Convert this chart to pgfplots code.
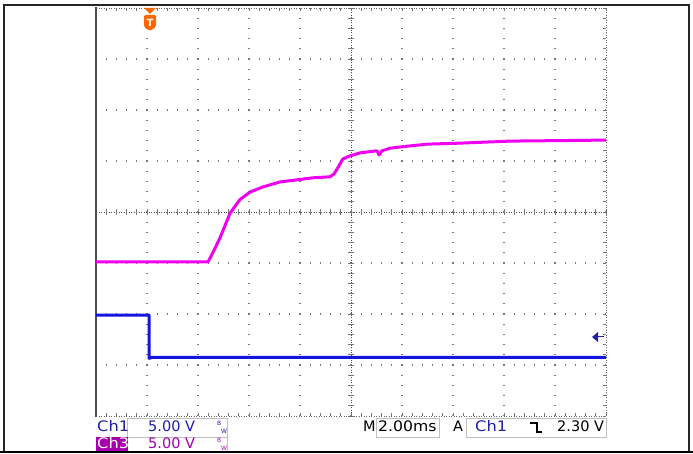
\documentclass[border=0pt]{standalone}
\usepackage{pgfplots}
\pgfplotsset{compat=1.18}
\usepackage{fontspec}
\setmainfont{DejaVu Sans}
\definecolor{chm}{RGB}{240,0,240}
\definecolor{chb}{RGB}{20,20,225}
\definecolor{txtb}{RGB}{30,30,170}
\definecolor{txtm}{RGB}{165,0,175}
\definecolor{gridc}{RGB}{120,120,120}
\definecolor{tor}{RGB}{255,102,0}
\begin{document}
\begin{tikzpicture}[x=1pt,y=1pt]
\path[use as bounding box] (0,0) rectangle (693,454);
\fill[white] (0,0) rectangle (693,454);
% grid (dotted major divisions)
\foreach \i in {1,...,9}{
  \draw[gridc, line width=1.3pt, dash pattern=on 1.3pt off 8.9pt, dash phase=0.65pt] ({96+51*\i},38) -- ({96+51*\i},446);
}
\foreach \j in {1,...,7}{
  \draw[gridc, line width=1.3pt, dash pattern=on 1.3pt off 8.9pt, dash phase=0.65pt] (96,{38+51*\j}) -- (606,{38+51*\j});
}
% centre crosshair
\draw[black!70, line width=0.9pt, dash pattern=on 1pt off 1.5pt] (351,38) -- (351,446);
\draw[black!70, line width=0.9pt, dash pattern=on 1pt off 1.5pt] (96,242) -- (606,242);
\foreach \k in {0,...,40}{
  \draw[gridc, line width=0.9pt] (348,{38+10.2*\k}) -- (354,{38+10.2*\k});
}
\foreach \k in {0,...,50}{
  \draw[gridc, line width=0.9pt] ({96+10.2*\k},239) -- ({96+10.2*\k},245);
  \draw[gridc, line width=0.9pt] ({96+10.2*\k},38) -- ({96+10.2*\k},41);
  \draw[gridc, line width=0.9pt] ({96+10.2*\k},446) -- ({96+10.2*\k},443);
}
\foreach \k in {0,...,40}{
  \draw[gridc, line width=0.9pt] (606,{38+10.2*\k}) -- (603,{38+10.2*\k});
}
% borders
\draw[black!60, line width=0.9pt, dash pattern=on 1pt off 1.5pt] (96,38) -- (606,38) -- (606,446);
\draw[black!60, line width=0.9pt, dash pattern=on 1pt off 1.5pt] (96,446) -- (606,446);
\draw[black!70, line width=1.6pt] (96,37) -- (96,447);
% traces
\begin{axis}[at={(96pt,38pt)}, anchor=south west, scale only axis,
  width=510pt, height=408pt, xmin=0, xmax=10, ymin=0, ymax=8,
  axis line style={draw=none}, ticks=none, clip=true]
\addplot[chm, line width=3pt, line join=round] coordinates {
(0,3.02) (2.196,3.02) (2.29,3.20) (2.43,3.49) (2.63,3.98) (2.82,4.24)
(3.02,4.39) (3.27,4.49) (3.61,4.59) (3.94,4.63) (4.25,4.67) (4.59,4.69)
(4.67,4.75) (4.75,4.88) (4.84,5.04) (4.98,5.10) (5.18,5.16) (5.51,5.20)
(5.55,5.12) (5.61,5.20) (5.76,5.25) (6.10,5.29) (6.49,5.33) (7.14,5.35)
(8.12,5.39) (9.10,5.40) (10,5.41)};
\addplot[chb, line width=3pt, line join=round] coordinates {
(0,1.98) (1.04,1.98) (1.04,1.13) (1.10,1.15) (10,1.15)};
\end{axis}
% trigger level arrow
\fill[txtb] (592,117) -- (598,122) -- (598,112) -- cycle;
\draw[txtb, line width=1pt] (597,117) -- (604,117);
% trigger position marker
\fill[tor] (144,446) -- (156,446) -- (150,440) -- cycle;
\fill[tor, rounded corners=1.5pt] (144,439) -- (156,439) -- (156,427) -- (150,423) -- (144,427) -- cycle;
\node[white, font=\fontsize{10}{10}\selectfont\bfseries, inner sep=0pt] at (150,431.5) {T};
% outer frame
\draw[black!85, line width=2pt] (3.5,2) -- (3.5,449) -- (688.5,449) -- (688.5,2);
% readout boxes
\draw[black!25, line width=0.8pt] (127,17) rectangle (227,36);
\draw[black!25, line width=0.8pt] (127,2) rectangle (227,17);
\draw[black!25, line width=0.8pt] (376,17) rectangle (439,36);
\draw[black!25, line width=0.8pt] (466,17) -- (466,36) -- (606,36) -- (606,17) -- cycle;
\fill[txtm] (96,2) rectangle (128,17);
\begin{scope}[every node/.style={inner sep=0pt, anchor=base west, font=\fontsize{14.5}{16}\selectfont}]
\node[txtb] at (97,22) {\scalebox{1.12}[1]{Ch1}};
\node[txtb] at (148,22) {5.00 V};
\node[white] at (97,5) {\scalebox{1.12}[1]{Ch3}};
\node[txtm] at (148,5) {5.00 V};
\node[black] at (363,22) {M};
\node[black] at (378,22) {\scalebox{1.08}[1]{2.00ms}};
\node[black] at (453,22) {A};
\node[txtb] at (475,22) {\scalebox{1.12}[1]{Ch1}};
\node[black] at (557,22) {2.30 V};
\end{scope}
% falling edge symbol
\draw[black, line width=1.4pt] (530,31) -- (537,31) -- (537,22) -- (542,22);
% BW symbols
\begin{scope}[every node/.style={inner sep=0pt, anchor=base west, font=\fontsize{6}{6}\selectfont}]
\node[txtb] at (217,28) {B};
\node[txtb] at (221,20) {W};
\node[txtm] at (217,11) {B};
\node[txtm] at (221,3) {W};
\end{scope}
% bottom line
\draw[black, line width=2pt] (0,2) -- (693,2);
\end{tikzpicture}
\end{document}
